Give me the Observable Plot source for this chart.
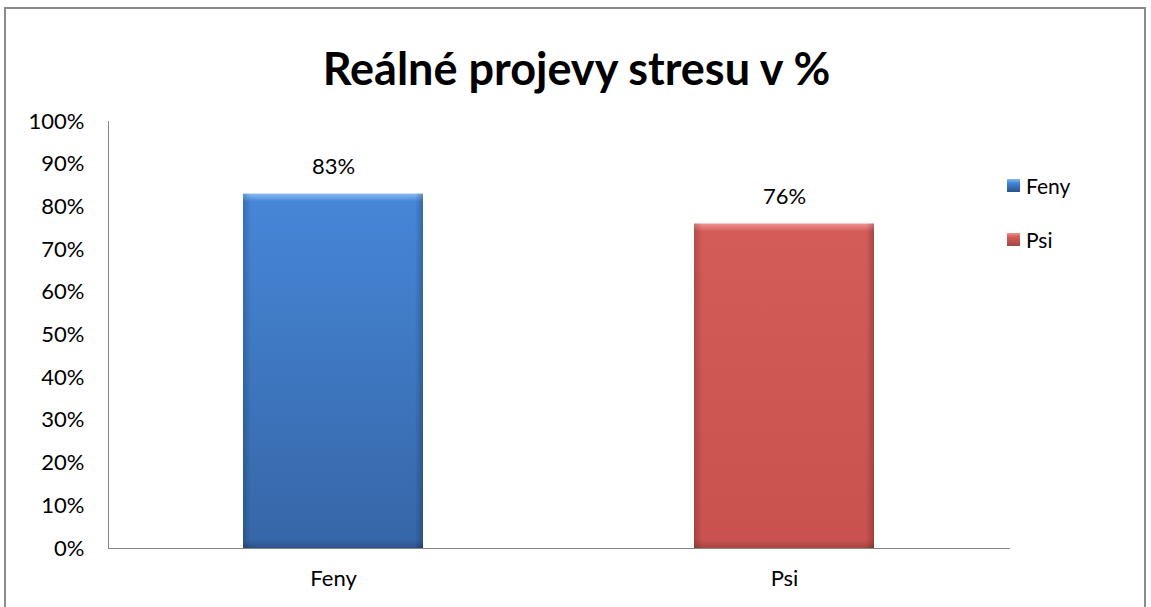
<!DOCTYPE html>
<html><head><meta charset="utf-8">
<script src="https://cdn.jsdelivr.net/npm/d3@7"></script>
<script src="https://cdn.jsdelivr.net/npm/@observablehq/plot@0.6"></script>
<style>
html,body{margin:0;padding:0;background:#fff;}
#wrap{position:relative;width:1151px;height:607px;overflow:hidden;font-family:Lato,"Noto Sans",sans-serif;}
#frame{position:absolute;left:4px;top:7px;width:1142px;height:640px;border:2px solid #8a8a8a;box-sizing:border-box;}
#title{position:absolute;left:4px;width:1145px;top:41px;text-align:center;font-size:45px;font-weight:bold;color:#000;}
#legend{position:absolute;left:1007px;top:172px;font-size:21px;color:#000;}
.li{display:flex;align-items:center;height:27px;margin-bottom:27px;}
.sw{width:13px;height:13px;margin-right:6px;}
#chart{position:absolute;left:0;top:0;}
</style></head><body>
<div id="wrap">
<div id="frame"></div>
<div id="chart"></div>
<div id="title">Reálné projevy stresu v %</div>
<div id="legend"></div>
</div>
<script>
const categories = ["Feny", "Psi"];
const values = [83, 76];
const yTicks = [0,10,20,30,40,50,60,70,80,90,100];
const gradIds = ["gFeny", "gPsi"];
// light top, main top, main bottom, dark bottom
const colors = {Feny: ["#86bbf2", "#4686d7", "#3667a8", "#2c5189"], Psi: ["#f0938f", "#d45c58", "#c9524e", "#a64541"]};

const data = categories.map((c, i) => ({cat: c, value: values[i], grad: `url(#${gradIds[i]})`}));

const chart = Plot.plot({
  width: 1151,
  height: 607,
  marginLeft: 108,
  marginRight: 141,
  marginTop: 121,
  marginBottom: 59,
  style: {fontFamily: "Lato, 'Noto Sans', sans-serif", fontSize: "22px", color: "#000", background: "transparent"},
  x: {domain: categories, paddingInner: 0.6, paddingOuter: 0.3, label: null, tickSize: 0, tickPadding: 22},
  y: {domain: [0, 100], ticks: yTicks, tickFormat: d => d + "%", label: null, tickSize: 0, tickPadding: 24},
  marks: [
    Plot.barY(data, {x: "cat", y: "value", fill: "grad"}),
    Plot.barY(data, {x: "cat", y: "value", fill: "url(#gSide)"}),
    Plot.text(data, {x: "cat", y: "value", text: d => d.value + "%", dy: -27, fontSize: 22, fill: "#000"}),
  ]
});
const svg = d3.select(chart);
const defs = svg.insert("defs", ":first-child");
const yS = chart.scale("y");
categories.forEach((c, i) => {
  const h = yS.apply(0) - yS.apply(values[i]);
  const f = 8 / h;
  const g = defs.append("linearGradient").attr("id", gradIds[i]).attr("x1", 0).attr("y1", 0).attr("x2", 0).attr("y2", 1);
  g.append("stop").attr("offset", 0).attr("stop-color", colors[c][0]);
  g.append("stop").attr("offset", f).attr("stop-color", colors[c][1]);
  g.append("stop").attr("offset", 1 - f).attr("stop-color", colors[c][2]);
  g.append("stop").attr("offset", 1).attr("stop-color", colors[c][3]);
});
const side = defs.append("linearGradient").attr("id", "gSide").attr("x1", 0).attr("y1", 0).attr("x2", 1).attr("y2", 0);
side.append("stop").attr("offset", 0).attr("stop-color", "rgba(0,0,0,0.18)");
side.append("stop").attr("offset", 0.045).attr("stop-color", "rgba(0,0,0,0)");
side.append("stop").attr("offset", 0.955).attr("stop-color", "rgba(0,0,0,0)");
side.append("stop").attr("offset", 1).attr("stop-color", "rgba(0,0,0,0.22)");
svg.append("line").attr("x1", 108.5).attr("x2", 108.5).attr("y1", 121).attr("y2", 548).attr("stroke", "#868686");
svg.append("line").attr("x1", 108).attr("x2", 1010).attr("y1", 548.5).attr("y2", 548.5).attr("stroke", "#868686");
document.getElementById("chart").appendChild(chart);

const legend = document.getElementById("legend");
categories.forEach(c => {
  const row = document.createElement("div"); row.className = "li";
  const sw = document.createElement("div"); sw.className = "sw";
  sw.style.background = `linear-gradient(${colors[c][0]}, ${colors[c][1]} 30%, ${colors[c][3]})`;
  const t = document.createElement("span"); t.textContent = c;
  row.appendChild(sw); row.appendChild(t); legend.appendChild(row);
});
</script>
</body></html>
